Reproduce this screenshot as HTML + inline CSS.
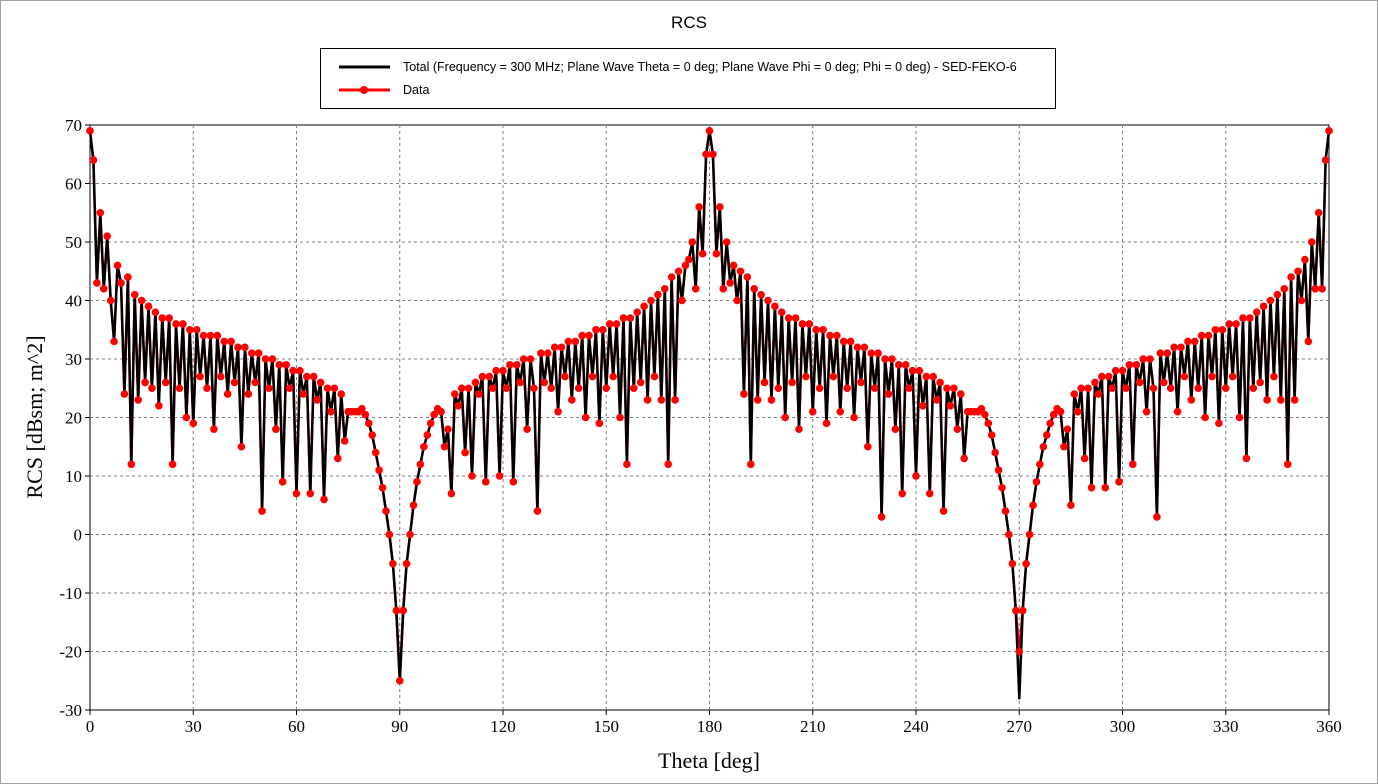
<!DOCTYPE html>
<html><head><meta charset="utf-8"><style>
body{margin:0;background:#fff;}
#wrap{position:relative;width:1378px;height:784px;overflow:hidden;background:#fff;}
</style></head><body>
<div id="wrap">
<svg id="chart" width="1378" height="784" xmlns="http://www.w3.org/2000/svg"></svg>
</div>
<script>
const xTicks=[0,30,60,90,120,150,180,210,240,270,300,330,360];
const yTicks=[70,60,50,40,30,20,10,0,-10,-20,-30];
const thetaStart=0;
const dataValues=[69,64,43,55,42,51,40,33,46,43,24,44,12,41,23,40,26,39,25,38,22,37,26,37,12,36,25,36,20,35,19,35,27,34,25,34,18,34,27,33,24,33,26,32,15,32,24,31,26,31,4,30,25,30,18,29,9,29,25,28,7,28,24,27,7,27,23,26,6,25,21,25,13,24,16,21,21,21,21,21.5,20.5,19,17,14,11,8,4,0,-5,-13,-25,-13,-5,0,5,9,12,15,17,19,20.5,21.5,21,15,18,7,24,22,25,14,25,10,26,24,27,9,27,25,28,10,28,25,29,9,29,26,30,18,30,25,4,31,26,31,25,32,21,32,27,33,23,33,25,34,20,34,27,35,19,35,25,36,27,36,20,37,12,37,25,38,26,39,23,40,27,41,23,42,12,44,23,45,40,46,47,50,42,56,48,65,69,
65,48,56,42,50,43,46,40,45,24,44,12,42,23,41,26,40,23,39,25,38,20,37,26,37,18,36,27,36,21,35,25,35,19,34,27,34,21,33,25,33,20,32,26,32,15,31,25,31,3,30,24,30,18,29,7,29,25,28,10,28,22,27,7,27,23,26,4,25,22,25,18,24,13,21,21,21,21,21.5,20.5,19,17,14,11,8,4,0,-5,-13,-20,-13,-5,0,5,9,12,15,17,19,20.5,21.5,21,15,18,5,24,21,25,13,25,8,26,24,27,8,27,25,28,9,28,25,29,12,29,26,30,21,30,25,3,31,26,31,25,32,21,32,27,33,23,33,25,34,20,34,27,35,19,35,25,36,27,36,20,37,13,37,25,38,26,39,23,40,27,41,23,42,12,44,23,45,40,47,33,50,42,55,42,64,69];
const totalValues=dataValues.slice();
totalValues[90]=-25; totalValues[270]=-28;

const svg=document.getElementById('chart');
const NS='http://www.w3.org/2000/svg';
const L=90,R=1329,T=125,B=710;
const xS=v=>L+(v-0)/360*(R-L);
const yS=v=>T+(70-v)/100*(B-T);
function mk(tag,attrs,parent){const e=document.createElementNS(NS,tag);for(const k in attrs)e.setAttribute(k,attrs[k]);(parent||svg).appendChild(e);return e;}

const frame=mk('rect',{x:0.5,y:0.5,width:1377,height:783,fill:'#fff',stroke:'#a0a0a0'});


const title=mk('text',{x:689,y:28,'text-anchor':'middle','font-family':'Liberation Sans, sans-serif','font-size':17,fill:'#000'});
title.textContent='RCS';



const plot=mk('rect',{x:L,y:T,width:R-L,height:B-T,fill:'#fff',stroke:'#000','stroke-width':1});



const grid=mk('g',{});


xTicks.forEach(t=>{
  const x=xS(t);
  if(t>0&&t<360) mk('line',{x1:x,y1:T,x2:x,y2:B,stroke:'#808080','stroke-dasharray':'3,3','stroke-width':1},grid);
  mk('line',{x1:x,y1:B,x2:x,y2:B+5,stroke:'#000'},grid);
  const tx=mk('text',{x:x,y:B+22,'text-anchor':'middle','font-family':'Liberation Serif, serif','font-size':17,fill:'#000'});
  tx.textContent=t;
  
  
});
yTicks.forEach(t=>{
  const y=yS(t);
  if(t<70&&t>-30) mk('line',{x1:L,y1:y,x2:R,y2:y,stroke:'#808080','stroke-dasharray':'3,3','stroke-width':1},grid);
  mk('line',{x1:L-5,y1:y,x2:L,y2:y,stroke:'#000'},grid);
  const tx=mk('text',{x:L-8,y:y+6,'text-anchor':'end','font-family':'Liberation Serif, serif','font-size':17,fill:'#000'});
  tx.textContent=t;
  
  
});
const xt=mk('text',{x:709,y:768,'text-anchor':'middle','font-family':'Liberation Serif, serif','font-size':22,fill:'#000'});
xt.textContent='Theta [deg]';


const yt=mk('text',{x:42,y:417,'text-anchor':'middle','font-family':'Liberation Serif, serif','font-size':22,fill:'#000',transform:'rotate(-90 42 417)'});
yt.textContent='RCS [dBsm; m^2]';



function pts(arr){return arr.map((v,i)=>xS(thetaStart+i).toFixed(1)+','+yS(v).toFixed(1)).join(' ');}
const redLine=mk('polyline',{points:pts(dataValues),fill:'none',stroke:'#ff0000','stroke-width':2.5});


const blackLine=mk('polyline',{points:pts(totalValues),fill:'none',stroke:'#000','stroke-width':2.5,'stroke-linejoin':'round'});


const dots=mk('g',{});


dataValues.forEach((v,i)=>{
  const c=mk('circle',{cx:xS(thetaStart+i),cy:yS(v),r:3.8,fill:'#ff0000'},dots);
  
  
});

const leg=mk('g',{});


mk('rect',{x:320.5,y:48.5,width:735,height:60,fill:'#fff',stroke:'#000','stroke-width':1},leg);
mk('line',{x1:339,y1:67,x2:390,y2:67,stroke:'#000','stroke-width':3},leg);
const l1=mk('text',{x:403,y:71,'font-family':'Liberation Sans, sans-serif','font-size':12.5,fill:'#000'},leg);
l1.textContent='Total (Frequency = 300 MHz; Plane Wave Theta = 0 deg; Plane Wave Phi = 0 deg; Phi = 0 deg) - SED-FEKO-6';


mk('line',{x1:339,y1:90,x2:390,y2:90,stroke:'#ff0000','stroke-width':3},leg);
mk('circle',{cx:364,cy:90,r:4,fill:'#ff0000'},leg);
const l2=mk('text',{x:403,y:94,'font-family':'Liberation Sans, sans-serif','font-size':12.5,fill:'#000'},leg);
l2.textContent='Data';


</script>
</body></html>
